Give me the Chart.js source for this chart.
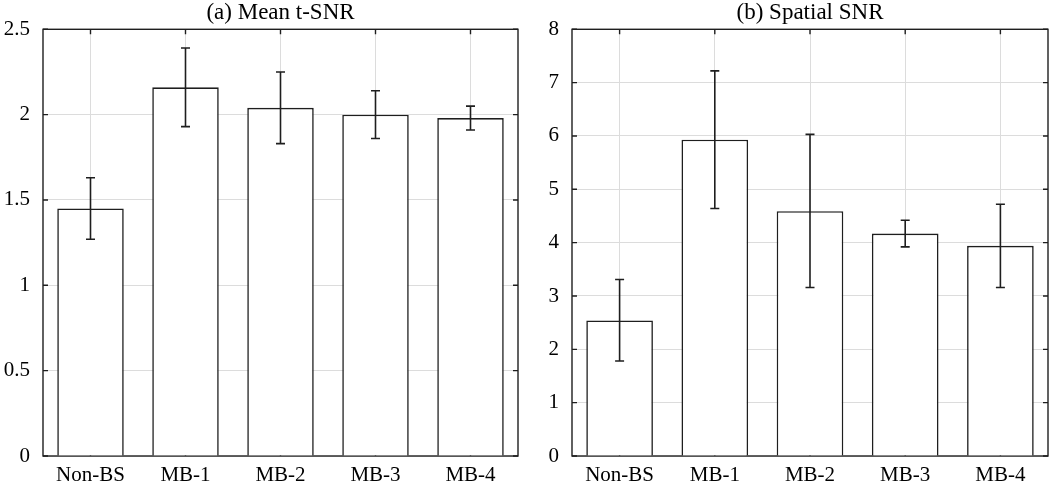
<!DOCTYPE html>
<html>
<head>
<meta charset="utf-8">
<script src="https://cdn.jsdelivr.net/npm/chart.js@4.4.1/dist/chart.umd.min.js"></script>
<style>
  html, body { margin: 0; padding: 0; background: #ffffff; }
  #wrap { position: relative; width: 1050px; height: 486px; overflow: hidden; }
  .box { position: absolute; top: 0; height: 486px; width: 525px; }
  #b1 { left: 0; }
  #b2 { left: 525px; }
</style>
</head>
<body>
<div id="wrap">
  <div class="box" id="b1"><canvas id="c1"></canvas></div>
  <div class="box" id="b2"><canvas id="c2"></canvas></div>
</div>
<script>
const categories = ['Non-BS', 'MB-1', 'MB-2', 'MB-3', 'MB-4'];

const tsnrMean = [1.45, 2.16, 2.04, 2.00, 1.98];
const tsnrLow  = [1.27, 1.93, 1.83, 1.86, 1.91];
const tsnrHigh = [1.63, 2.39, 2.25, 2.14, 2.05];

const ssnrMean = [2.54, 5.93, 4.59, 4.17, 3.94];
const ssnrLow  = [1.78, 4.64, 3.16, 3.92, 3.16];
const ssnrHigh = [3.31, 7.22, 6.03, 4.42, 4.72];

const tsnrTitle = '(a) Mean t-SNR';
const ssnrTitle = '(b) Spatial SNR';
const tsnrAxis = { min: 0, max: 2.5, step: 0.5 };
const ssnrAxis = { min: 0, max: 8, step: 1 };

const FONT = "'Liberation Serif', 'Times New Roman', serif";
const INK = '#1e1e1e';
const GRID = '#dcdcdc';

const boxTicksPlugin = {
  id: 'boxTicks',
  beforeDatasetsDraw(chart) {
    const { ctx, chartArea: a, scales } = chart;
    const len = 5;
    ctx.save();
    ctx.strokeStyle = INK;
    ctx.lineWidth = 1.4;
    ctx.beginPath();
    scales.y.ticks.forEach(t => {
      const y = scales.y.getPixelForValue(t.value);
      ctx.moveTo(a.left, y); ctx.lineTo(a.left + len, y);
      ctx.moveTo(a.right, y); ctx.lineTo(a.right - len, y);
    });
    scales.x.ticks.forEach((t, i) => {
      const x = scales.x.getPixelForValue(i);
      ctx.moveTo(x, a.top); ctx.lineTo(x, a.top + len);
      ctx.moveTo(x, a.bottom); ctx.lineTo(x, a.bottom - len);
    });
    ctx.stroke();
    ctx.strokeRect(a.left, a.top, a.right - a.left, a.bottom - a.top);
    ctx.restore();
  }
};

const errorBarPlugin = {
  id: 'errorBars',
  afterDatasetsDraw(chart, args, opts) {
    const { ctx, scales } = chart;
    const cap = 4.5;
    ctx.save();
    ctx.strokeStyle = INK;
    ctx.lineWidth = 1.6;
    ctx.beginPath();
    opts.low.forEach((lo, i) => {
      const x = scales.x.getPixelForValue(i);
      const yl = scales.y.getPixelForValue(lo);
      const yh = scales.y.getPixelForValue(opts.high[i]);
      ctx.moveTo(x, yl); ctx.lineTo(x, yh);
      ctx.moveTo(x - cap, yl); ctx.lineTo(x + cap, yl);
      ctx.moveTo(x - cap, yh); ctx.lineTo(x + cap, yh);
    });
    ctx.stroke();
    ctx.restore();
  }
};

function makeChart(canvasId, title, values, low, high, axis, yWidth, padRight) {
  return new Chart(document.getElementById(canvasId), {
    type: 'bar',
    data: {
      labels: categories,
      datasets: [{
        data: values,
        backgroundColor: '#ffffff',
        borderColor: INK,
        borderWidth: 1.6,
        barPercentage: 0.7,
        categoryPercentage: 1.0
      }]
    },
    options: {
      responsive: true,
      maintainAspectRatio: false,
      animation: false,
      layout: { padding: { left: 0, right: padRight, top: 0, bottom: 0 } },
      plugins: {
        legend: { display: false },
        tooltip: { enabled: false },
        title: {
          display: true,
          text: title,
          fullSize: false,
          color: '#000000',
          font: { family: FONT, size: 23, weight: 'normal', lineHeight: 1.1 },
          padding: { top: 0, bottom: 4 }
        },
        errorBars: { low: low, high: high }
      },
      scales: {
        x: {
          grid: { display: true, offset: false, color: GRID, lineWidth: 1, drawTicks: false },
          border: { display: false },
          ticks: { color: '#000000', font: { family: FONT, size: 21 }, padding: 7 },
          afterFit(s) { s.height = 30; }
        },
        y: {
          min: axis.min,
          max: axis.max,
          grid: { color: GRID, lineWidth: 1, drawTicks: false },
          border: { display: false },
          ticks: {
            stepSize: axis.step,
            color: '#000000',
            font: { family: FONT, size: 21 },
            padding: 13,
            callback: v => String(Math.round(v * 10) / 10)
          },
          afterFit(s) { s.width = yWidth; }
        }
      }
    },
    plugins: [boxTicksPlugin, errorBarPlugin]
  });
}

makeChart('c1', tsnrTitle, tsnrMean, tsnrLow, tsnrHigh, tsnrAxis, 43, 7);
makeChart('c2', ssnrTitle, ssnrMean, ssnrLow, ssnrHigh, ssnrAxis, 47, 2);
</script>
</body>
</html>
